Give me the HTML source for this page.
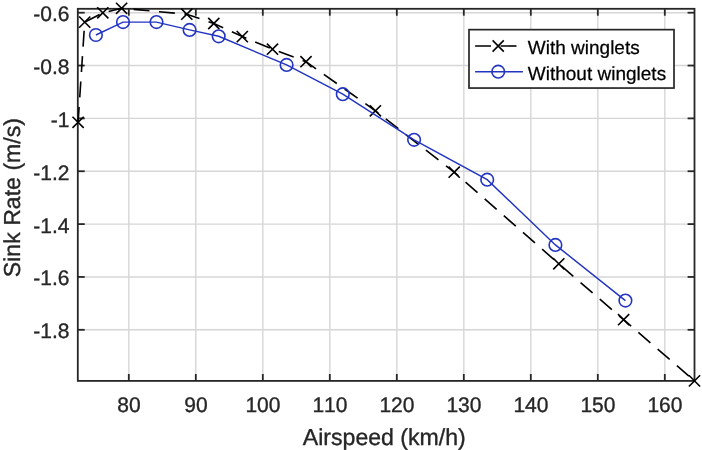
<!DOCTYPE html>
<html lang="en"><head><meta charset="utf-8"><title>Sink Rate vs Airspeed</title>
<style>
html,body{margin:0;padding:0;background:#fff;}
body{width:702px;height:450px;overflow:hidden;}
svg{display:block;will-change:transform;}
text{font-family:"Liberation Sans",Arial,Helvetica,sans-serif;fill:#262626;text-rendering:geometricPrecision;font-kerning:none;stroke:#262626;stroke-width:0.35px;stroke-linejoin:round;}
.tk{font-size:21px;}
.lb{font-size:23.1px;}
.lg{font-size:19px;fill:#000;stroke:#000;stroke-width:0.25px;}
</style></head><body>
<svg width="702" height="450" viewBox="0 0 702 450">
<rect x="0" y="0" width="702" height="450" fill="#ffffff"/>
<g stroke="#d6d6d6" stroke-width="1.4" fill="none">
<line x1="128.80" y1="8.80" x2="128.80" y2="380.90"/>
<line x1="195.80" y1="8.80" x2="195.80" y2="380.90"/>
<line x1="262.80" y1="8.80" x2="262.80" y2="380.90"/>
<line x1="329.80" y1="8.80" x2="329.80" y2="380.90"/>
<line x1="396.80" y1="8.80" x2="396.80" y2="380.90"/>
<line x1="463.80" y1="8.80" x2="463.80" y2="380.90"/>
<line x1="530.80" y1="8.80" x2="530.80" y2="380.90"/>
<line x1="597.80" y1="8.80" x2="597.80" y2="380.90"/>
<line x1="664.80" y1="8.80" x2="664.80" y2="380.90"/>
<line x1="77.80" y1="12.70" x2="694.50" y2="12.70"/>
<line x1="77.80" y1="65.55" x2="694.50" y2="65.55"/>
<line x1="77.80" y1="118.40" x2="694.50" y2="118.40"/>
<line x1="77.80" y1="171.25" x2="694.50" y2="171.25"/>
<line x1="77.80" y1="224.10" x2="694.50" y2="224.10"/>
<line x1="77.80" y1="276.95" x2="694.50" y2="276.95"/>
<line x1="77.80" y1="329.80" x2="694.50" y2="329.80"/>
</g>
<g stroke="#262626" stroke-width="1.80" fill="none" stroke-linecap="butt">
<rect x="77.80" y="8.80" width="616.70" height="372.10"/>
<line x1="128.80" y1="380.90" x2="128.80" y2="374.00"/>
<line x1="128.80" y1="8.80" x2="128.80" y2="15.70"/>
<line x1="195.80" y1="380.90" x2="195.80" y2="374.00"/>
<line x1="195.80" y1="8.80" x2="195.80" y2="15.70"/>
<line x1="262.80" y1="380.90" x2="262.80" y2="374.00"/>
<line x1="262.80" y1="8.80" x2="262.80" y2="15.70"/>
<line x1="329.80" y1="380.90" x2="329.80" y2="374.00"/>
<line x1="329.80" y1="8.80" x2="329.80" y2="15.70"/>
<line x1="396.80" y1="380.90" x2="396.80" y2="374.00"/>
<line x1="396.80" y1="8.80" x2="396.80" y2="15.70"/>
<line x1="463.80" y1="380.90" x2="463.80" y2="374.00"/>
<line x1="463.80" y1="8.80" x2="463.80" y2="15.70"/>
<line x1="530.80" y1="380.90" x2="530.80" y2="374.00"/>
<line x1="530.80" y1="8.80" x2="530.80" y2="15.70"/>
<line x1="597.80" y1="380.90" x2="597.80" y2="374.00"/>
<line x1="597.80" y1="8.80" x2="597.80" y2="15.70"/>
<line x1="664.80" y1="380.90" x2="664.80" y2="374.00"/>
<line x1="664.80" y1="8.80" x2="664.80" y2="15.70"/>
<line x1="77.80" y1="12.70" x2="84.70" y2="12.70"/>
<line x1="694.50" y1="12.70" x2="687.60" y2="12.70"/>
<line x1="77.80" y1="65.55" x2="84.70" y2="65.55"/>
<line x1="694.50" y1="65.55" x2="687.60" y2="65.55"/>
<line x1="77.80" y1="118.40" x2="84.70" y2="118.40"/>
<line x1="694.50" y1="118.40" x2="687.60" y2="118.40"/>
<line x1="77.80" y1="171.25" x2="84.70" y2="171.25"/>
<line x1="694.50" y1="171.25" x2="687.60" y2="171.25"/>
<line x1="77.80" y1="224.10" x2="84.70" y2="224.10"/>
<line x1="694.50" y1="224.10" x2="687.60" y2="224.10"/>
<line x1="77.80" y1="276.95" x2="84.70" y2="276.95"/>
<line x1="694.50" y1="276.95" x2="687.60" y2="276.95"/>
<line x1="77.80" y1="329.80" x2="84.70" y2="329.80"/>
<line x1="694.50" y1="329.80" x2="687.60" y2="329.80"/>
</g>
<g class="tk" text-anchor="middle">
<text x="128.90" y="412.1">80</text>
<text x="195.90" y="412.1">90</text>
<text x="262.90" y="412.1">100</text>
<text x="329.90" y="412.1">110</text>
<text x="396.90" y="412.1">120</text>
<text x="463.90" y="412.1">130</text>
<text x="530.90" y="412.1">140</text>
<text x="597.90" y="412.1">150</text>
<text x="664.90" y="412.1">160</text>
</g>
<g class="tk" text-anchor="end">
<text x="69.4" y="21.20">-0.6</text>
<text x="69.4" y="74.05">-0.8</text>
<text x="69.4" y="126.90">-1</text>
<text x="69.4" y="179.75">-1.2</text>
<text x="69.4" y="232.60">-1.4</text>
<text x="69.4" y="285.45">-1.6</text>
<text x="69.4" y="338.30">-1.8</text>
</g>
<text class="lb" text-anchor="middle" x="384.3" y="444.7">Airspeed (km/h)</text>
<text class="lb" text-anchor="middle" transform="translate(19.5 197.6) rotate(-90)">Sink Rate (m/s)</text>
<g stroke="#000000" stroke-width="1.60" fill="none">
<polyline stroke-dasharray="15.9 9.55" stroke-dashoffset="0.5" points="78.1,122.3 84.7,22.1 102.8,12.8 121.6,8.3 186.8,14.2 213.8,23.5 242.3,36.6 272.5,49.2 306.0,61.7 375.4,110.8 454.2,172.2 558.8,263.8 623.6,319.7 694.5,380.9"/>
<path d="M72.5 116.7L83.7 127.9M72.5 127.9L83.7 116.7M79.1 16.5L90.3 27.7M79.1 27.7L90.3 16.5M97.2 7.2L108.4 18.4M97.2 18.4L108.4 7.2M116.0 2.7L127.2 13.9M116.0 13.9L127.2 2.7M181.2 8.6L192.4 19.8M181.2 19.8L192.4 8.6M208.2 17.9L219.4 29.1M208.2 29.1L219.4 17.9M236.7 31.0L247.9 42.2M236.7 42.2L247.9 31.0M266.9 43.6L278.1 54.8M266.9 54.8L278.1 43.6M300.4 56.1L311.6 67.3M300.4 67.3L311.6 56.1M369.8 105.2L381.0 116.4M369.8 116.4L381.0 105.2M448.6 166.6L459.8 177.8M448.6 177.8L459.8 166.6M553.2 258.2L564.4 269.4M553.2 269.4L564.4 258.2M618.0 314.1L629.2 325.3M618.0 325.3L629.2 314.1M688.9 375.3L700.1 386.5M688.9 386.5L700.1 375.3"/>
</g>
<g stroke="#2234c2" stroke-width="1.60" fill="none">
<polyline stroke-width="1.45" points="95.9,35.0 123.0,22.1 156.5,22.1 189.6,29.9 218.7,36.3 286.6,64.9 342.8,94.2 414.1,139.8 487.2,179.7 555.4,244.9 625.4,300.6"/>
<circle cx="95.9" cy="35.0" r="6.3"/>
<circle cx="123.0" cy="22.1" r="6.3"/>
<circle cx="156.5" cy="22.1" r="6.3"/>
<circle cx="189.6" cy="29.9" r="6.3"/>
<circle cx="218.7" cy="36.3" r="6.3"/>
<circle cx="286.6" cy="64.9" r="6.3"/>
<circle cx="342.8" cy="94.2" r="6.3"/>
<circle cx="414.1" cy="139.8" r="6.3"/>
<circle cx="487.2" cy="179.7" r="6.3"/>
<circle cx="555.4" cy="244.9" r="6.3"/>
<circle cx="625.4" cy="300.6" r="6.3"/>
</g>
<rect x="469.0" y="29.65" width="205.0" height="58.4" fill="#ffffff" stroke="#262626" stroke-width="1.7"/>
<g stroke="#000000" stroke-width="1.60" fill="none">
<line x1="475.1" y1="46.0" x2="522.9" y2="46.0" stroke-dasharray="15.9 9.55"/>
<path d="M492.6 40.4L503.8 51.6M492.6 51.6L503.8 40.4"/>
</g>
<g stroke="#2234c2" stroke-width="1.60" fill="none">
<line x1="475.1" y1="71.7" x2="522.9" y2="71.7"/>
<circle cx="498.2" cy="71.7" r="6.3"/>
</g>
<text class="lg" x="527.8" y="53.8">With winglets</text>
<text class="lg" x="527.8" y="79.8">Without winglets</text>
</svg>
</body></html>
